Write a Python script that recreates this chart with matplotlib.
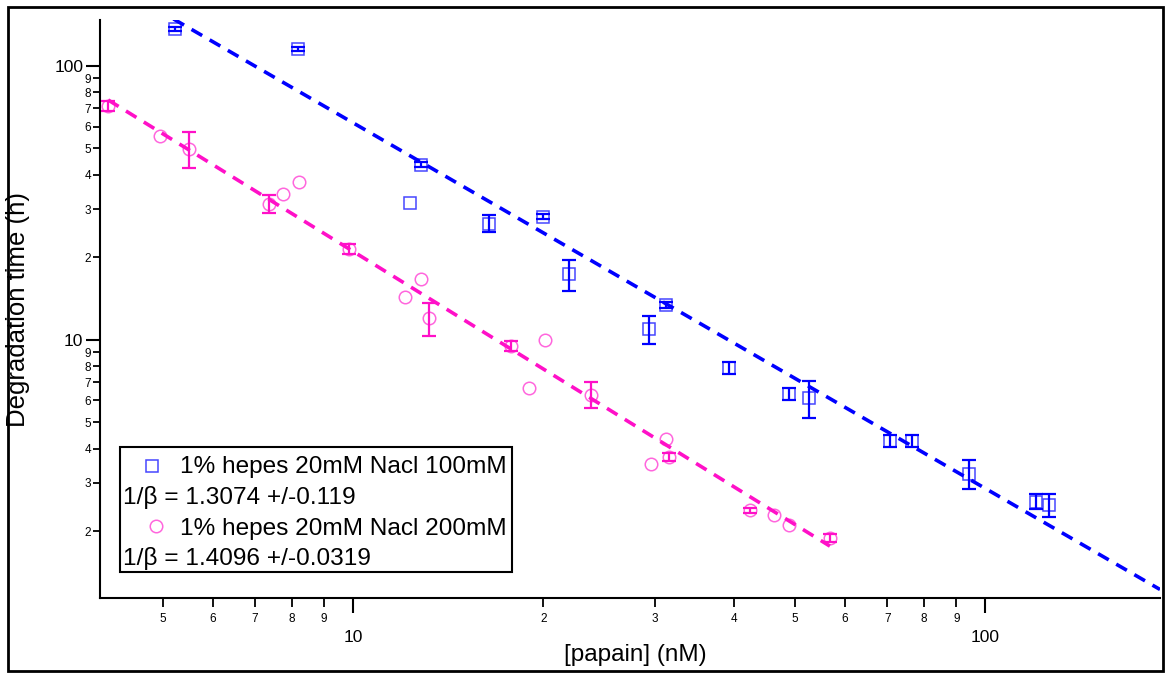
import numpy as np
import matplotlib
matplotlib.use('Agg')
import matplotlib.pyplot as plt
from matplotlib.ticker import FixedLocator, FixedFormatter
from matplotlib.patches import Rectangle
from matplotlib.lines import Line2D

plt.rcParams['font.family'] = ['Liberation Sans', 'DejaVu Sans']

#### data: 1% hepes 20mM, NaCl 100mM (blue squares)
x_100  = [5.23, 8.19, 12.8, 12.3, 16.4, 20.0, 22.0, 29.4, 31.3, 39.4, 49.0, 52.7, 70.7, 76.6, 94.3, 120.4, 126.2]
y_100  = [136.5, 115., 43.5, 31.6, 26.5, 28.1, 17.4, 10.9, 13.4, 7.9, 6.36, 6.14, 4.28, 4.28, 3.24, 2.56, 2.50]
hi_100 = [139., 117., 44.4, np.nan, 28.5, 28.7, 19.6, 12.2, 13.7, 8.3, 6.68, 7.04, 4.49, 4.49, 3.65, 2.74, 2.74]
lo_100 = [134., 113., 42.6, np.nan, 24.8, 27.5, 15.1, 9.62, 13.1, 7.5, 6.04, 5.18, 4.07, 4.07, 2.84, 2.40, 2.25]

#### data: 1% hepes 20mM, NaCl 200mM (pink circles)
x_200  = [4.10, 4.95, 5.50, 7.36, 7.74, 8.21, 9.86, 12.08, 12.82, 13.19, 17.78, 20.1, 19.0, 23.8, 31.3, 29.6, 31.6, 42.5, 46.4, 49.0, 56.8]
y_200  = [71.5, 55.5, 49.8, 31.3, 34.1, 37.8, 21.4, 14.3, 16.7, 12.0, 9.51, 10.0, 6.67, 6.30, 4.35, 3.53, 3.74, 2.38, 2.29, 2.11, 1.89]
hi_200 = [74.6, np.nan, 57.5, 33.8, np.nan, np.nan, 22.3, np.nan, np.nan, 13.67, 9.92, np.nan, np.nan, 7.03, np.nan, np.nan, 3.86, 2.43, np.nan, np.nan, 1.95]
lo_200 = [68.5, np.nan, 42.3, 29.1, np.nan, np.nan, 20.5, np.nan, np.nan, 10.34, 9.12, np.nan, np.nan, 5.65, np.nan, np.nan, 3.62, 2.33, np.nan, np.nan, 1.83]

#### power-law fits  y = amp * x**slope
fit_100 = dict(amp=1340., slope=-1.335, xmin=5.2, xmax=189.)
fit_200 = dict(amp=562., slope=-1.427, xmin=4.1, xmax=56.8)

legend_rows = ['1% hepes 20mM Nacl 100mM', '1/\u03b2 = 1.3074 +/-0.119',
               '1% hepes 20mM Nacl 200mM', '1/\u03b2 = 1.4096 +/-0.0319']

x_minor = [5, 6, 7, 8, 9, 20, 30, 40, 50, 60, 70, 80, 90]
y_minor = [2, 3, 4, 5, 6, 7, 8, 9, 20, 30, 40, 50, 60, 70, 80, 90]

BLUE = '#0000ff'
PINK = '#ff10c8'

W, H = 1166, 673
fig = plt.figure(figsize=(W / 100, H / 100), dpi=100)
ax = fig.add_axes([100 / W, 75 / H, 1060 / W, 578 / H])
ax.set_xscale('log')
ax.set_yscale('log')


def draw_series(x, y, lo, hi, marker, mcolor, ecolor, fit):
    x, y, lo, hi = map(np.asarray, (x, y, lo, hi))
    ax.plot(x, y, linestyle='none', marker=marker, markersize=9,
            markerfacecolor='none', markeredgecolor=mcolor, markeredgewidth=1.1, zorder=2)
    m = ~np.isnan(lo)
    ax.errorbar(x[m], y[m], yerr=[y[m] - lo[m], hi[m] - y[m]], fmt='none',
                ecolor=ecolor, elinewidth=1.6, capsize=5, capthick=1.6, zorder=3)
    xf = np.array([fit['xmin'], fit['xmax']])
    ax.plot(xf, fit['amp'] * xf ** fit['slope'], color=ecolor, lw=2.6,
            linestyle=(0, (3.4, 2.4)), zorder=4)


draw_series(x_100, y_100, lo_100, hi_100, 's', '#4646ff', BLUE, fit_100)
draw_series(x_200, y_200, lo_200, hi_200, 'o', '#ff66dd', PINK, fit_200)

ax.set_xlim(3.98, 189)
ax.set_ylim(1.14, 147)

for s in ['top', 'right']:
    ax.spines[s].set_visible(False)
for s in ['left', 'bottom']:
    ax.spines[s].set_linewidth(1.5)

ax.xaxis.set_major_locator(FixedLocator([10, 100]))
ax.xaxis.set_major_formatter(FixedFormatter(['10', '100']))
ax.xaxis.set_minor_locator(FixedLocator(x_minor))
ax.xaxis.set_minor_formatter(FixedFormatter([str(v)[0] for v in x_minor]))
ax.yaxis.set_major_locator(FixedLocator([10, 100]))
ax.yaxis.set_major_formatter(FixedFormatter(['10', '100']))
ax.yaxis.set_minor_locator(FixedLocator(y_minor))
ax.yaxis.set_minor_formatter(FixedFormatter([str(v)[0] for v in y_minor]))

ax.tick_params(axis='x', which='major', length=11, width=1.5, pad=12, labelsize=12.5)
ax.tick_params(axis='x', which='minor', length=6.5, width=1.3, pad=4, labelsize=8.5)
ax.tick_params(axis='y', which='major', length=10, width=1.5, pad=2, labelsize=12.5)
ax.tick_params(axis='y', which='minor', length=5, width=1.3, pad=1.5, labelsize=8.5)

fig.text(635 / W, 1 - 655 / H, '[papain] (nM)', fontsize=17.5, ha='center', va='center')
fig.text(18 / W, 1 - 310 / H, 'Degradation time (h)', fontsize=18.5, ha='center',
         va='center', rotation=90)

# legend box
fig.add_artist(Rectangle((120 / W, 1 - 572 / H), 392 / W, 125 / H, transform=fig.transFigure,
                         facecolor='white', edgecolor='black', lw=1.5, zorder=5))
fig.add_artist(Line2D([152 / W], [1 - 466 / H], marker='s', markersize=9, markerfacecolor='none',
                      markeredgecolor='#4646ff', markeredgewidth=1.1, transform=fig.transFigure, zorder=6))
fig.add_artist(Line2D([156 / W], [1 - 526 / H], marker='o', markersize=9, markerfacecolor='none',
                      markeredgecolor='#ff66dd', markeredgewidth=1.1, transform=fig.transFigure, zorder=6))
row_x = [180, 123, 180, 123]
row_y = [473, 504, 535, 565]
for tx, ty, s in zip(row_x, row_y, legend_rows):
    fig.text(tx / W, 1 - ty / H, s, fontsize=17.6, ha='left', va='baseline', zorder=6)

# figure border
fig.add_artist(Rectangle((8 / W, 2 / H), 1155 / W, 664 / H, transform=fig.transFigure,
                         facecolor='none', edgecolor='black', lw=2))

fig.savefig('out.png', dpi=100)
